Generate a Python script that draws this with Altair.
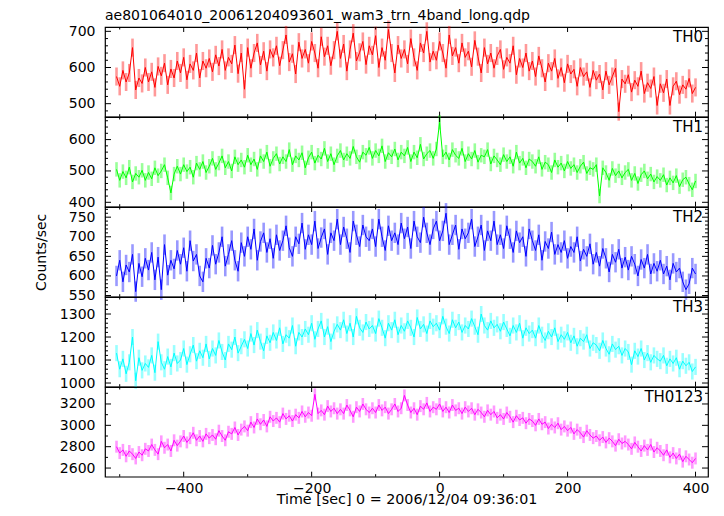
import altair as alt
import pandas as pd

# time bins (sec), 5-s resolution
time = list(range(-505, 401, 5))

th0 = [
    575, 548, 592, 560, 585, 655, 538, 571, 556, 600,
    560, 588, 545, 603, 577, 612, 552, 596, 571, 618,
    585, 628, 566, 610, 592, 640, 571, 618, 598, 625,
    588, 635, 604, 650, 592, 628, 610, 662, 583, 640,
    540, 655, 598, 640, 668, 607, 645, 590, 650, 628,
    660, 605, 648, 690, 615, 638, 582, 670, 625, 650,
    612, 672, 640, 598, 685, 630, 660, 605, 648, 700,
    625, 665, 590, 650, 695, 618, 642, 672, 608, 660,
    635, 688, 600, 655, 620, 705, 640, 585, 662, 625,
    650, 610, 680, 628, 592, 668, 640, 700, 615, 645,
    620, 672, 640, 598, 690, 632, 655, 612, 668, 628,
    645, 602, 675, 630, 585, 655, 610, 640, 598, 632,
    650, 595, 628, 612, 660, 580, 625, 600, 640, 590,
    618, 575, 632, 598, 560, 612, 590, 625, 570, 600,
    558, 610, 582, 595, 548, 600, 575, 588, 545, 592,
    565, 582, 538, 590, 552, 575, 598, 478, 568, 555,
    580, 532, 565, 548, 590, 528, 558, 542, 575, 495,
    555, 530, 568, 495, 548, 562, 525, 552, 540, 570,
    528, 545,
]

th1 = [
    505, 470, 498, 478, 512, 465, 492, 480, 502, 470,
    495, 475, 510, 485, 500, 520, 478, 430, 490, 515,
    490, 520, 498, 512, 480, 525, 505, 530, 495, 515,
    540, 505, 525, 548, 510, 530, 500, 545, 520, 535,
    512, 550, 520, 538, 505, 548, 530, 560, 515, 540,
    555, 522, 545, 530, 568, 520, 548, 535, 558, 510,
    542, 560, 525, 550, 538, 572, 530, 555, 520, 548,
    565, 535, 555, 540, 578, 545, 528, 560, 550, 575,
    540, 565, 548, 580, 530, 558, 545, 570, 535, 560,
    548, 575, 530, 560, 542, 585, 538, 555, 565, 540,
    570, 655, 545, 560, 535, 568, 550, 540, 572, 530,
    555, 538, 565, 528, 550, 545, 568, 522, 548, 535,
    520, 552, 530, 545, 515, 560, 525, 540, 510, 538,
    530, 515, 545, 505, 528, 520, 495, 535, 512, 525,
    500, 530, 508, 520, 495, 515, 528, 492, 510, 505,
    520, 420, 510, 495, 470, 508, 485, 500, 478, 495,
    505, 470, 492, 460, 488, 500, 475, 490, 465, 482,
    470, 488, 455, 478, 462, 485, 450, 472, 480, 458,
    440, 468,
]

th2 = [
    600, 640, 585, 628, 610, 655, 560, 632, 598, 645,
    615, 660, 590, 648, 565, 680, 602, 640, 618, 665,
    630, 672, 612, 690, 638, 655, 600, 585, 645, 620,
    678, 630, 660, 700, 625, 655, 690, 640, 612, 685,
    650, 700, 668, 720, 640, 688, 710, 660, 695, 645,
    705, 665, 690, 728, 672, 650, 700, 682, 735, 668,
    705, 680, 740, 670, 698, 720, 655, 710, 690, 745,
    680, 725, 695, 660, 740, 705, 675, 730, 700, 690,
    720, 675, 745, 700, 665, 728, 690, 710, 680, 735,
    695, 725, 670, 740, 700, 685, 750, 710, 680, 720,
    740, 690, 715, 760, 680, 705, 730, 668, 720, 695,
    710, 745, 675, 700, 730, 665, 715, 690, 740, 680,
    705, 670, 728, 695, 660, 715, 685, 700, 650, 720,
    690, 665, 705, 640, 688, 670, 712, 655, 680, 660,
    690, 645, 675, 660, 700, 638, 668, 650, 682, 630,
    660, 625, 670, 645, 610, 655, 635, 668, 620, 648,
    615, 650, 630, 600, 642, 620, 655, 605, 632, 612,
    640, 605, 625, 590, 632, 610, 620, 585, 565, 580,
    620, 605,
]

th3 = [
    1130, 1060, 1105, 1040, 1090, 1200, 1010, 1110, 1055, 1085,
    1068, 1120, 1045, 1180, 1090, 1060, 1115, 1070, 1130, 1085,
    1100, 1150, 1080, 1125, 1165, 1095, 1140, 1110, 1170, 1105,
    1150, 1120, 1185, 1135, 1100, 1170, 1145, 1200, 1130, 1160,
    1190, 1150, 1215, 1165, 1230, 1180, 1140, 1205, 1175, 1220,
    1185, 1240, 1170, 1210, 1195, 1250, 1160, 1220, 1200, 1235,
    1210, 1260, 1190, 1235, 1270, 1200, 1245, 1180, 1225, 1255,
    1230, 1275, 1215, 1260, 1200, 1290, 1240, 1220, 1265, 1235,
    1250, 1215, 1280, 1240, 1195, 1260, 1230, 1275, 1210, 1250,
    1225, 1270, 1240, 1200, 1285, 1235, 1255, 1215, 1270, 1245,
    1260, 1230, 1290, 1245, 1215, 1275, 1240, 1265, 1220, 1250,
    1235, 1280, 1245, 1210, 1300, 1250, 1230, 1270, 1240, 1255,
    1225, 1265, 1235, 1205, 1250, 1220, 1260, 1195, 1240, 1215,
    1230, 1195, 1250, 1210, 1185, 1225, 1200, 1240, 1180, 1210,
    1190, 1220, 1175, 1205, 1160, 1195, 1180, 1210, 1150, 1175,
    1165, 1140, 1185, 1150, 1125, 1170, 1145, 1160, 1120, 1150,
    1135, 1080, 1140, 1115, 1150, 1100, 1130, 1090, 1120, 1105,
    1095, 1120, 1075, 1105, 1085, 1110, 1060, 1095, 1075, 1090,
    1050, 1070,
]

th0123 = [
    2800, 2740, 2770, 2710, 2760, 2730, 2690, 2750, 2720, 2780,
    2760, 2820, 2770, 2730, 2850, 2790, 2820, 2760, 2860, 2810,
    2850, 2900, 2840, 2880, 2930, 2860, 2900, 2850, 2920, 2880,
    2910, 2870, 2950, 2900, 2860, 2940, 2920, 2980, 2910, 2960,
    2990, 2950, 3030, 2980, 3060, 3010, 3050, 2990, 3080, 3040,
    3070, 3030, 3110, 3060, 3090, 3040, 3100, 3070, 3130, 3080,
    3120, 3090, 3290, 3110, 3140, 3100, 3180, 3130, 3160, 3110,
    3150, 3110, 3190, 3140, 3080, 3170, 3130, 3200, 3150, 3120,
    3160, 3120, 3190, 3140, 3170, 3110, 3150, 3200, 3130, 3160,
    3280, 3190, 3120, 3160, 3100, 3180, 3150, 3210, 3130, 3170,
    3150, 3200, 3130, 3170, 3120, 3190, 3140, 3160, 3110, 3170,
    3130, 3160, 3100, 3150, 3120, 3080, 3140, 3100, 3130, 3070,
    3100, 3060, 3120, 3080, 3030, 3090, 3050, 3070, 3020, 3060,
    3040, 3000, 3060, 3010, 3030, 2970, 3010, 2980, 3020, 2960,
    2990, 2950, 2980, 2920, 2960, 2930, 2890, 2950, 2910, 2880,
    2900, 2860, 2890, 2840, 2880, 2850, 2810, 2870, 2830, 2850,
    2820, 2780, 2840, 2800, 2760, 2810, 2770, 2820, 2750, 2790,
    2760, 2720, 2770, 2700, 2740, 2690, 2730, 2660, 2710, 2680,
    2650, 2690,
]

series = [th0, th1, th2, th3, th0123]
names = ["TH0", "TH1", "TH2", "TH3", "TH0123"]
colors = ["#ff0000", "#00ff00", "#0000ff", "#00ffff", "#ff00ff"]
errs = [25, 23, 26, 35, 56]
y_domains = [[464, 712], [386, 672], [547, 776], [984, 1374], [2519, 3359]]
y_major = [
    [500, 600, 700],
    [400, 500, 600],
    [550, 600, 650, 700, 750],
    [1000, 1100, 1200, 1300],
    [2600, 2800, 3000, 3200],
]
y_minor = [
    [v for v in range(480, 712, 20) if v % 100],
    [v for v in range(400, 672, 20) if v % 100],
    [v for v in range(550, 776, 10) if v % 50],
    [v for v in range(1000, 1374, 20) if v % 100],
    [v for v in range(2600, 3359, 100) if v % 200],
]
x_major = [-400, -200, 0, 200, 400]
x_minor = [-500, -300, -100, 100, 300]
x_domain = [-523, 419.5]

title_text = "ae801064010_20061204093601_wam3_trn_4band_long.qdp"
x_title = "Time [sec] 0 = 2006/12/04 09:36:01"
y_title = "Counts/sec"

for s in series:
    assert len(s) == len(time), len(s)

FONT = "DejaVu Sans"
W = 603
H = 89.7
MAJ = 5
MIN = 2.5
LFS = 14


def panel(i):
    bottom = i == len(series) - 1
    xs = alt.Scale(domain=x_domain, nice=False, zero=False)
    ys = alt.Scale(domain=y_domains[i], nice=False, zero=False)
    if bottom:
        xaxis = alt.Axis(values=x_major, ticks=False, domain=False, grid=False,
                         labelFont=FONT, labelFontSize=LFS, labelColor="black",
                         labelPadding=5, labelFlush=False, title=x_title,
                         titleFont=FONT, titleFontSize=14.3, titleFontWeight="normal",
                         titleColor="black", titlePadding=-3)
    else:
        xaxis = None
    yaxis = alt.Axis(values=y_major[i], ticks=False, domain=False, grid=False,
                     labelFont=FONT, labelFontSize=LFS, labelColor="black",
                     labelPadding=10, labelOverlap=False, format="d",
                     title=(y_title if i == 2 else None),
                     titleFont=FONT, titleFontSize=14, titleFontWeight="normal",
                     titleColor="black", titlePadding=20)

    df = pd.DataFrame({"t": time, "v": series[i]})
    df["lo"] = df["v"] - errs[i]
    df["hi"] = df["v"] + errs[i]

    X = alt.X("t:Q", scale=xs, axis=xaxis)
    err = alt.Chart(df).mark_rule(color=colors[i], opacity=0.4, strokeWidth=2.6).encode(
        x=X, y=alt.Y("lo:Q", scale=ys, axis=yaxis), y2="hi:Q")
    line = alt.Chart(df).mark_line(color=colors[i], strokeWidth=1).encode(
        x=X, y=alt.Y("v:Q", scale=ys, axis=yaxis))

    xmaj = pd.DataFrame({"t": x_major})
    xmin = pd.DataFrame({"t": x_minor})
    ymaj = pd.DataFrame({"v": y_major[i]})
    ymin = pd.DataFrame({"v": y_minor[i]})

    layers = [err, line]
    for d, L in ((xmaj, MAJ), (xmin, MIN)):
        layers.append(alt.Chart(d).mark_rule(color="black", strokeWidth=1).encode(
            x=X, y=alt.value(0), y2=alt.value(L)))
        layers.append(alt.Chart(d).mark_rule(color="black", strokeWidth=1).encode(
            x=X, y=alt.value(H), y2=alt.value(H - L)))
    Y = alt.Y("v:Q", scale=ys, axis=yaxis)
    for d, L in ((ymaj, 6), (ymin, 3)):
        layers.append(alt.Chart(d).mark_rule(color="black", strokeWidth=1).encode(
            y=Y, x=alt.value(0), x2=alt.value(L)))
        layers.append(alt.Chart(d).mark_rule(color="black", strokeWidth=1).encode(
            y=Y, x=alt.value(W), x2=alt.value(W - L)))

    lab = alt.Chart(pd.DataFrame({"name": [names[i]]})).mark_text(
        align="right", baseline="top", font=FONT, fontSize=15, color="black"
    ).encode(x=alt.value(W - 5), y=alt.value(3), text="name:N")
    layers.append(lab)

    ch = alt.layer(*layers).properties(width=W, height=H)
    if i == 0:
        ch = ch.properties(title=alt.TitleParams(
            text=title_text, anchor="start", frame="group", font=FONT,
            fontSize=14, fontWeight="normal", color="black", offset=-4))
    return ch


chart = alt.vconcat(*[panel(i) for i in range(len(series))], spacing=0, bounds="flush").properties(
    padding={"left": 25, "top": 0, "right": 5, "bottom": 2}
).configure_view(stroke="black", strokeWidth=1.2)

chart.save("out.html", embed_options={"renderer": "svg", "actions": False})
